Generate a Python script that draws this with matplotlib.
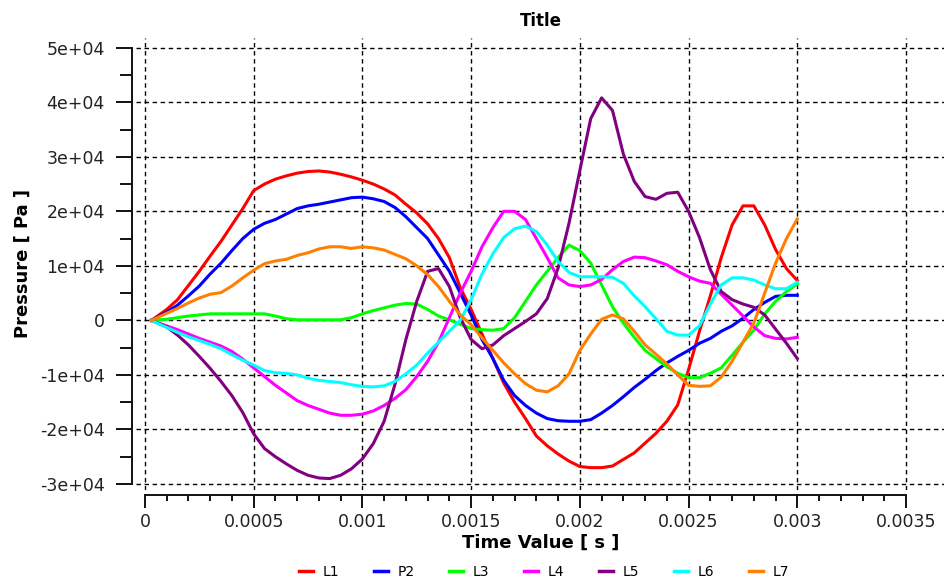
import numpy as np
import matplotlib
matplotlib.use("Agg")
import matplotlib.pyplot as plt
from matplotlib.ticker import FixedLocator, FuncFormatter
from matplotlib.lines import Line2D

# Sample times [s]
time = [0.00003] + list(np.round(np.arange(0.0001, 0.0030001, 0.00005), 5))

# Pressure series [1e4 Pa]
L1 = [0, 0.2, 0.38, 0.64, 0.9, 1.18, 1.45, 1.75, 2.05, 2.38,
      2.5, 2.59, 2.65, 2.7, 2.73, 2.74, 2.72, 2.68, 2.63, 2.57,
      2.5, 2.41, 2.3, 2.13, 1.97, 1.77, 1.5, 1.15, 0.6, 0.2,
      -0.25, -0.7, -1.15, -1.5, -1.8, -2.12, -2.3, -2.45, -2.58, -2.68,
      -2.7, -2.7, -2.67, -2.55, -2.43, -2.25, -2.07, -1.85, -1.55, -0.9,
      -0.2, 0.45, 1.15, 1.75, 2.1, 2.1, 1.75, 1.3, 0.95, 0.73]
P2 = [0, 0.15, 0.28, 0.45, 0.63, 0.85, 1.05, 1.28, 1.5, 1.67,
      1.78, 1.85, 1.95, 2.05, 2.1, 2.13, 2.17, 2.21, 2.25, 2.26,
      2.23, 2.18, 2.07, 1.9, 1.7, 1.5, 1.2, 0.9, 0.5, 0.1,
      -0.35, -0.7, -1.1, -1.38, -1.56, -1.7, -1.8, -1.84, -1.85, -1.85,
      -1.82, -1.7, -1.56, -1.4, -1.23, -1.08, -0.92, -0.78, -0.66, -0.55,
      -0.42, -0.33, -0.2, -0.1, 0.04, 0.2, 0.33, 0.44, 0.46, 0.46]
L3 = [0, 0.02, 0.05, 0.08, 0.1, 0.12, 0.12, 0.12, 0.12, 0.12,
      0.12, 0.08, 0.03, 0.01, 0.01, 0.01, 0.01, 0.01, 0.05, 0.12,
      0.18, 0.23, 0.28, 0.31, 0.3, 0.2, 0.08, 0.01, -0.07, -0.15,
      -0.17, -0.18, -0.15, 0.05, 0.35, 0.65, 0.9, 1.15, 1.38, 1.28,
      1.05, 0.65, 0.25, -0.05, -0.31, -0.55, -0.7, -0.85, -0.97, -1.05,
      -1.05, -0.97, -0.87, -0.64, -0.4, -0.18, 0.12, 0.35, 0.53, 0.67]
L4 = [0, -0.1, -0.17, -0.25, -0.33, -0.4, -0.47, -0.57, -0.71, -0.87,
      -1.03, -1.19, -1.33, -1.47, -1.56, -1.63, -1.7, -1.74, -1.74, -1.72,
      -1.66, -1.56, -1.43, -1.27, -1.03, -0.75, -0.4, 0.05, 0.5, 0.9,
      1.35, 1.7, 2.0, 2.0, 1.85, 1.5, 1.15, 0.78, 0.65, 0.62,
      0.65, 0.75, 0.93, 1.08, 1.16, 1.15, 1.09, 1.02, 0.9, 0.8,
      0.72, 0.68, 0.48, 0.28, 0.08, -0.12, -0.28, -0.33, -0.34, -0.31]
L5 = [0, -0.12, -0.27, -0.45, -0.66, -0.88, -1.12, -1.38, -1.69, -2.08,
      -2.35, -2.5, -2.63, -2.75, -2.84, -2.89, -2.9, -2.84, -2.72, -2.54,
      -2.26, -1.85, -1.17, -0.35, 0.35, 0.9, 0.95, 0.62, 0.05, -0.35,
      -0.52, -0.45, -0.28, -0.15, -0.02, 0.12, 0.4, 0.96, 1.78, 2.75,
      3.7, 4.08, 3.85, 3.05, 2.55, 2.27, 2.22, 2.33, 2.35, 2.0,
      1.52, 0.93, 0.53, 0.38, 0.3, 0.24, 0.1, -0.16, -0.42, -0.7]
L6 = [0, -0.13, -0.22, -0.3, -0.37, -0.44, -0.52, -0.63, -0.73, -0.82,
      -0.92, -0.96, -0.97, -1.0, -1.06, -1.1, -1.12, -1.14, -1.18, -1.21,
      -1.22, -1.2, -1.12, -0.98, -0.82, -0.6, -0.4, -0.2, 0.0, 0.38,
      0.85, 1.22, 1.52, 1.68, 1.73, 1.63, 1.38, 1.08, 0.88, 0.8,
      0.8, 0.8, 0.79, 0.68, 0.45, 0.25, 0.03, -0.2, -0.27, -0.27,
      -0.1, 0.3, 0.65, 0.78, 0.78, 0.74, 0.65, 0.58, 0.58, 0.7]
L7 = [0, 0.13, 0.22, 0.32, 0.41, 0.48, 0.51, 0.63, 0.78, 0.92,
      1.04, 1.09, 1.12, 1.19, 1.24, 1.31, 1.35, 1.35, 1.32, 1.35,
      1.33, 1.29, 1.21, 1.13, 1.0, 0.84, 0.62, 0.35, 0.1, -0.08,
      -0.32, -0.55, -0.78, -0.98, -1.16, -1.28, -1.31, -1.2, -0.98, -0.55,
      -0.25, 0.02, 0.1, 0.03, -0.2, -0.45, -0.62, -0.8, -1.0, -1.19,
      -1.21, -1.2, -1.04, -0.75, -0.4, -0.05, 0.5, 1.05, 1.5, 1.86]

names = ["L1", "P2", "L3", "L4", "L5", "L6", "L7"]
series = [L1, P2, L3, L4, L5, L6, L7]
colors = ["#ff0000", "#0000ff", "#00ff00", "#ff00ff", "#800080", "#00ffff", "#ff8000"]

x_ticks = [0, 0.0005, 0.001, 0.0015, 0.002, 0.0025, 0.003, 0.0035]
y_ticks = [-30000, -20000, -10000, 0, 10000, 20000, 30000, 40000, 50000]

W, H = 945, 581
fig = plt.figure(figsize=(W / 100, H / 100), dpi=100)
ax = fig.add_axes([136 / W, 1 - 490 / H, (W - 136) / W, (490 - 38) / H])

for name, vals, c in zip(names, series, colors):
    ax.plot(time, np.array(vals) * 1e4, color=c, lw=2.2, label=name,
            solid_joinstyle="round", zorder=3)

ax.set_xlim(-4.1e-5, 3.679e-3)
ax.set_ylim(-31100, 51780)

ax.xaxis.set_major_locator(FixedLocator(x_ticks))
ax.yaxis.set_major_locator(FixedLocator(y_ticks))
ax.xaxis.set_minor_locator(FixedLocator([i * 0.0001 for i in range(36)]))
ax.yaxis.set_minor_locator(FixedLocator([-30000 + i * 5000 for i in range(17)]))
ax.xaxis.set_major_formatter(FuncFormatter(lambda v, p: "%g" % v))
ax.yaxis.set_major_formatter(FuncFormatter(lambda v, p: "0" if v == 0 else f"{v:.0e}"))

ax.grid(True, which="major", color="black", lw=1.0, linestyle=(0, (3.2, 2.6)), zorder=1)

for s in ["top", "right"]:
    ax.spines[s].set_visible(False)
ax.spines["left"].set_position(("outward", 3))
ax.spines["bottom"].set_position(("outward", 3.6))
ax.spines["left"].set_bounds(-30000, 50000)
ax.spines["bottom"].set_bounds(0, 0.0035)
for s in ["left", "bottom"]:
    ax.spines[s].set_linewidth(1.4)
    ax.spines[s].set_color("#111111")

ax.tick_params(axis="y", which="major", length=11.5, width=1.4, pad=8,
               labelsize=12.5, colors="#111111", labelcolor="#222222")
ax.tick_params(axis="y", which="minor", length=8.6, width=1.4, colors="#111111")
ax.tick_params(axis="x", which="major", length=9, width=1.4, pad=4,
               labelsize=12.5, colors="#111111", labelcolor="#222222")
ax.tick_params(axis="x", which="minor", length=4.5, width=1.4, colors="#111111")

ax.set_title("Title", fontsize=12, fontweight="bold", pad=9)
ax.set_xlabel("Time Value [ s ]", fontsize=13, fontweight="bold", labelpad=2)
ax.set_ylabel("Pressure [ Pa ]", fontsize=13, fontweight="bold", labelpad=6)

handles = [Line2D([], [], color=c, lw=2.5) for c in colors]
fig.legend(handles, names, loc="center", bbox_to_anchor=(544 / W, 1 - 572 / H),
           ncol=7, frameon=False, handlelength=1.0, handletextpad=0.7,
           columnspacing=2.5, fontsize=10)

fig.savefig("out.png", dpi=100)
